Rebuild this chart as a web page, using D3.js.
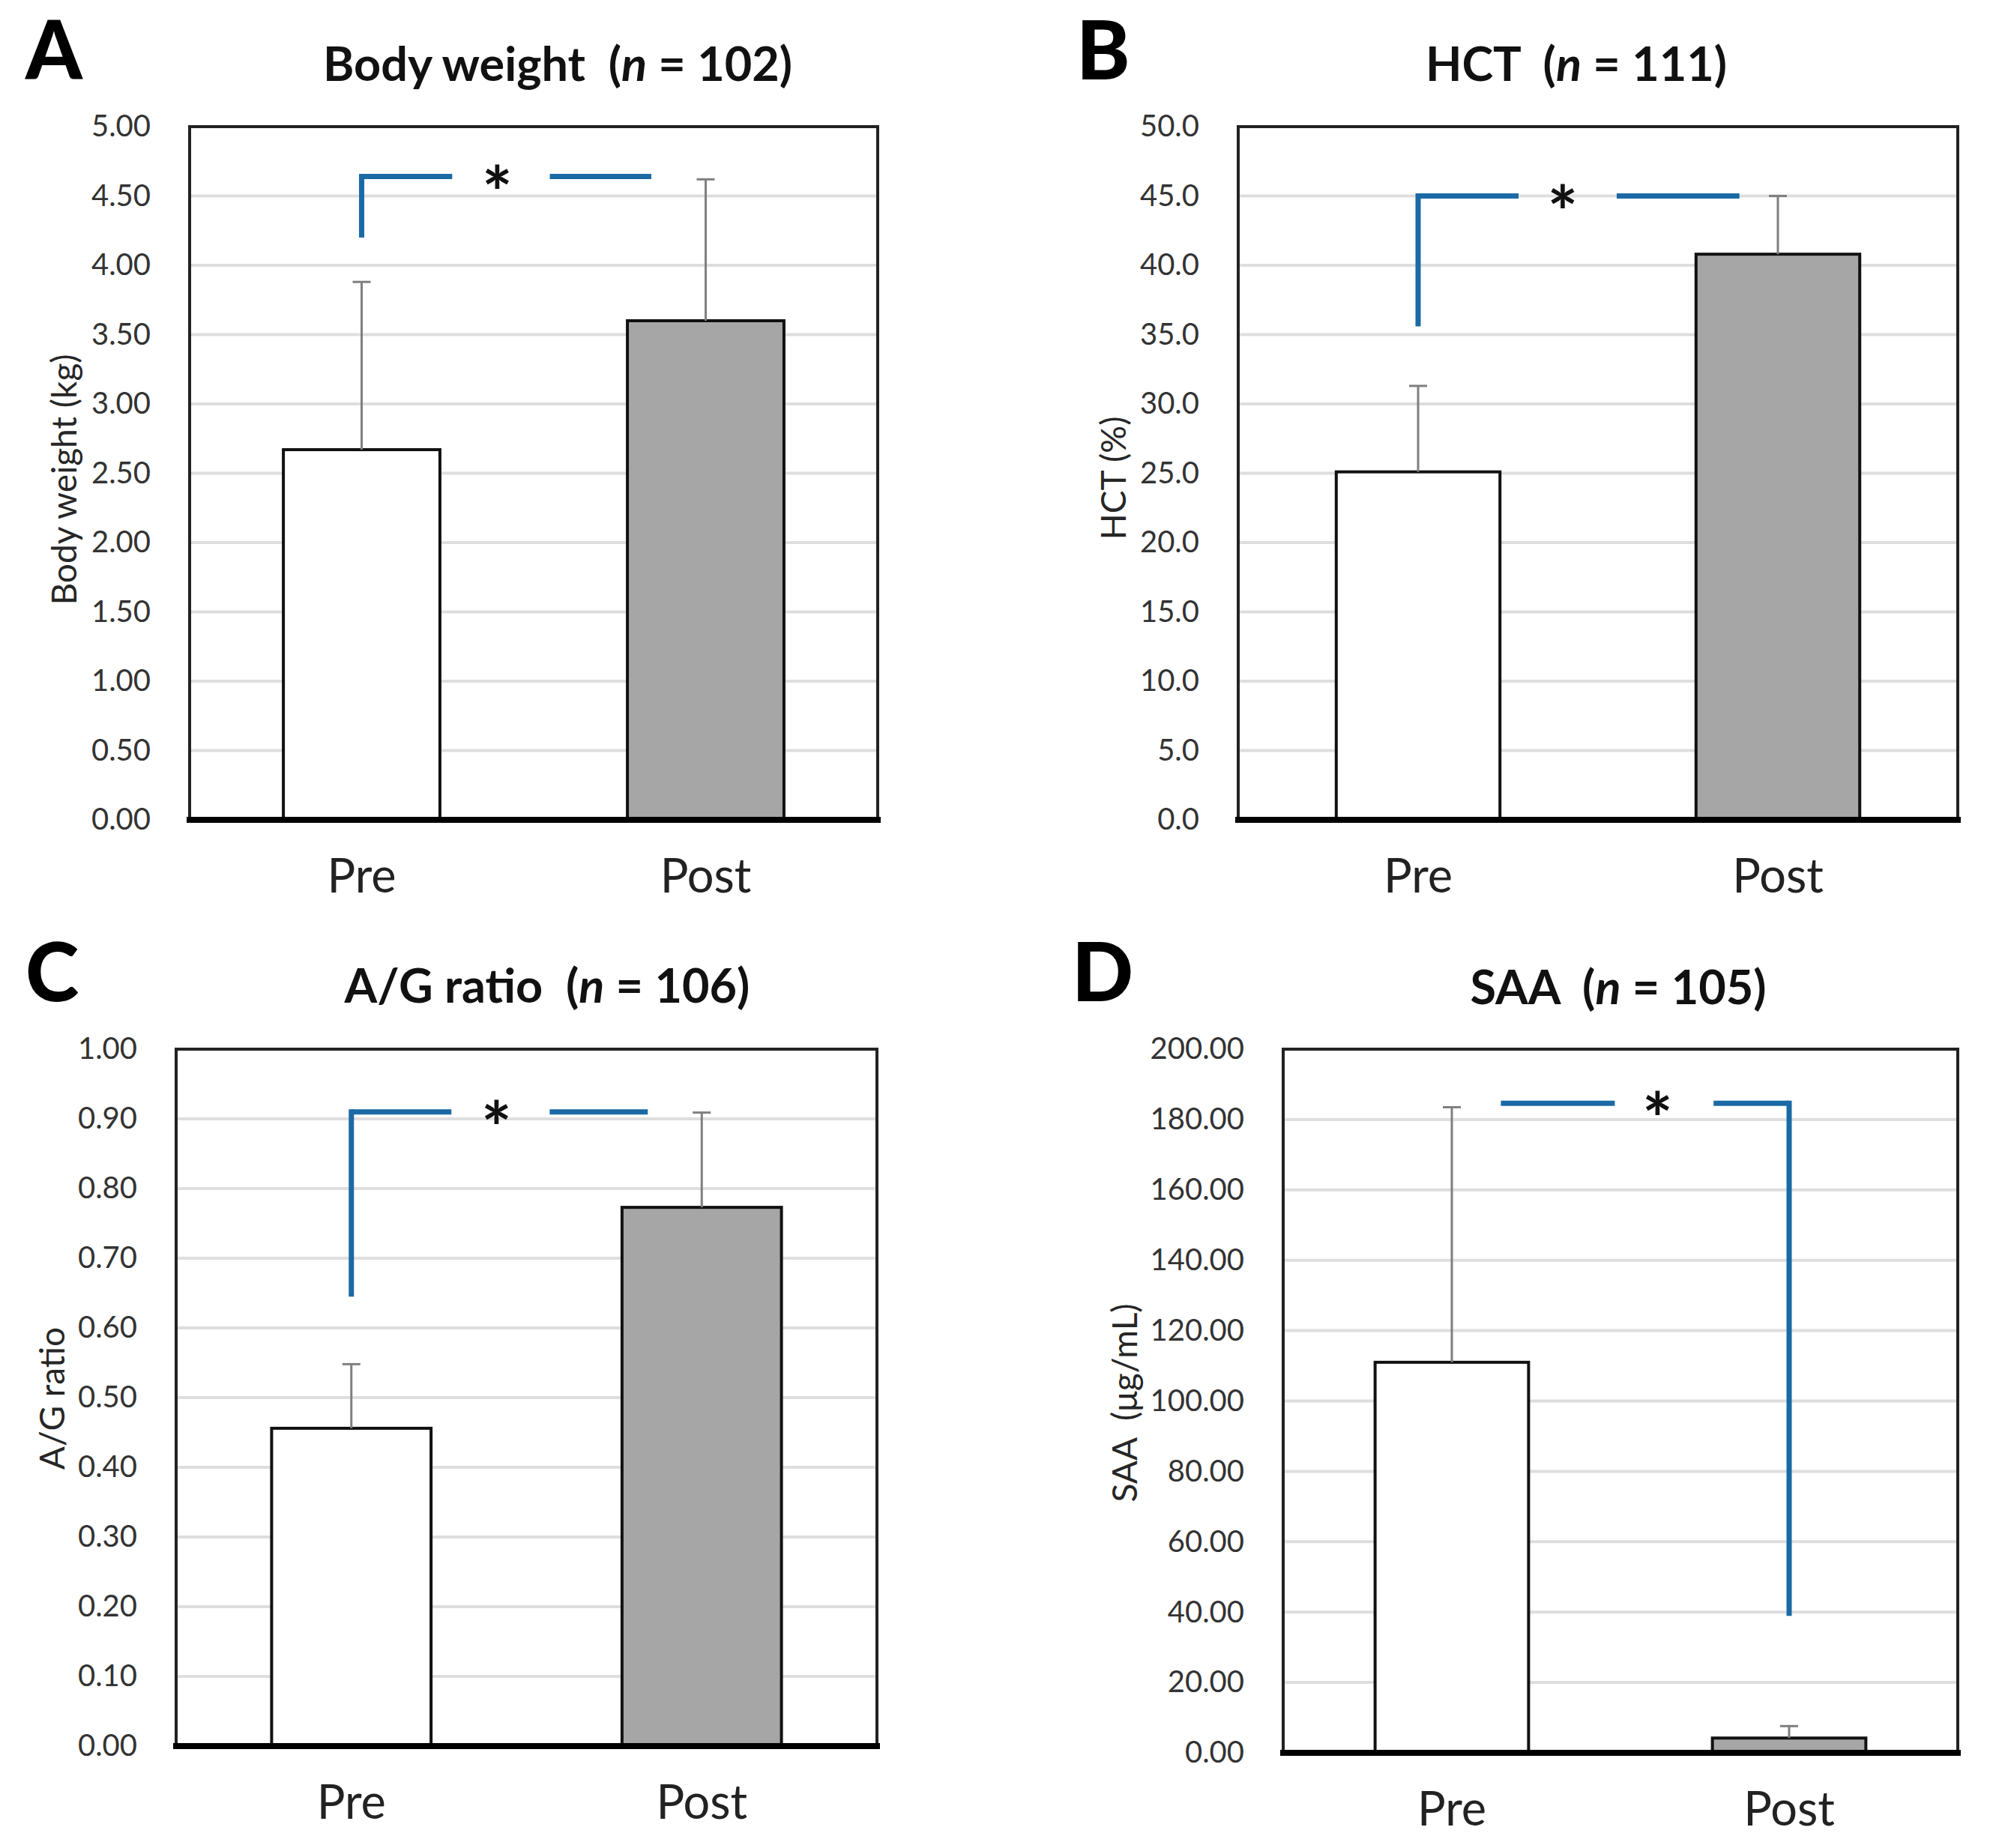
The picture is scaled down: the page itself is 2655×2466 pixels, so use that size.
<!DOCTYPE html>
<html>
<head>
<meta charset="utf-8">
<script src="https://cdn.jsdelivr.net/npm/d3@7"></script>
<style>
  body { margin: 0; background: #fff; }
  text { font-family: Lato, "Open Sans", sans-serif; }
</style>
</head>
<body>
<script>
// data
const categories = ["Pre", "Post"];
const panelLetters = ["A", "B", "C", "D"];
const titleNames = ["Body weight", "HCT", "A/G ratio", "SAA"];
const nValues = [102, 111, 106, 105];
const yLabels = ["Body weight (kg)", "HCT (%)", "A/G ratio", "SAA  (\u03bcg/mL)"];
const preMeans = [2.67, 25.1, 0.456, 111.0];
const postMeans = [3.60, 40.8, 0.773, 4.2];
const preErrTops = [3.88, 31.3, 0.548, 183.5];
const postErrTops = [4.62, 45.0, 0.909, 7.6];
const yMaxes = [5, 50, 1, 200];
const ySteps = [0.5, 5, 0.1, 20];
const tickFormats = [".2f", ".1f", ".2f", ".2f"];
const bracketTops = [4.64, 45.0, 0.91, 184.6];
const bracketFeet = [4.2, 35.6, 0.645, 38.9];
const bracketLegs = ["Pre", "Pre", "Pre", "Post"];

// layout of each panel (pixels)
const layout = [
    { x0: 253, x1: 1171, y0: 169, y1: 1094, titleX: 744, titleY: 108, letterX: 34, letterY: 106, labX: 84, labY: 640,
      gaps: [0.2535, 0.3816, 0.447, 0.5235, 0.671] },
    { x0: 1652, x1: 2612, y0: 169, y1: 1094, titleX: 2103, titleY: 108, letterX: 1436, letterY: 106, labX: 1484, labY: 638,
      gaps: [0.2533, 0.3896, 0.451, 0.526, 0.6966] },
    { x0: 235, x1: 1170, y0: 1400, y1: 2330, titleX: 730, titleY: 1338, letterX: 34, letterY: 1336, labX: 68, labY: 1866,
      gaps: [0.2525, 0.3928, 0.457, 0.533, 0.673] },
    { x0: 1712, x1: 2612, y0: 1400, y1: 2339, titleX: 2159, titleY: 1340, letterX: 1430, letterY: 1336, labX: 1499, labY: 1872,
      gaps: [0.3227, 0.4916, 0.555, 0.638, 0.7477] },
];

const blue = "#1b6aa5";

const svg = d3
    .select("body")
    .append("svg")
    .attr("width", 2655)
    .attr("height", 2466);

layout.forEach(function (L, i) {
    const w = L.x1 - L.x0;
    const g = svg.append("g");

    const x = d3.scaleBand().domain(categories).range([L.x0, L.x1]).paddingInner(0.545).paddingOuter(0.2725);
    const fx = d3.scaleLinear().domain([0, 1]).range([L.x0, L.x1]);
    const y = d3.scaleLinear().domain([0, yMaxes[i]]).range([L.y1, L.y0]);
    const ticks = d3.range(0, yMaxes[i] + ySteps[i] / 2, ySteps[i]);

    // gridlines
    g.selectAll(".grid")
        .data(ticks.filter((t, k) => k > 0 && k < ticks.length - 1))
        .enter()
        .append("line")
        .attr("x1", L.x0)
        .attr("x2", L.x1)
        .attr("y1", (d) => y(d))
        .attr("y2", (d) => y(d))
        .style("stroke", "#dedede")
        .style("stroke-width", 4);

    // bars
    const means = [preMeans[i], postMeans[i]];
    const tops = [preErrTops[i], postErrTops[i]];
    g.selectAll(".bar")
        .data(categories)
        .enter()
        .append("rect")
        .attr("x", (d) => x(d))
        .attr("y", (d, k) => y(means[k]))
        .attr("width", x.bandwidth())
        .attr("height", (d, k) => L.y1 - y(means[k]))
        .style("fill", (d, k) => (k === 0 ? "#ffffff" : "#a6a6a6"))
        .style("stroke", "#111")
        .style("stroke-width", 4);

    // error bars
    categories.forEach(function (c, k) {
        const cx = x(c) + x.bandwidth() / 2;
        g.append("line")
            .attr("x1", cx).attr("x2", cx)
            .attr("y1", y(means[k])).attr("y2", y(tops[k]))
            .style("stroke", "#7f7f7f").style("stroke-width", 3);
        g.append("line")
            .attr("x1", cx - 12).attr("x2", cx + 12)
            .attr("y1", y(tops[k])).attr("y2", y(tops[k]))
            .style("stroke", "#7f7f7f").style("stroke-width", 3);
    });

    // frame and base line
    g.append("rect")
        .attr("x", L.x0).attr("y", L.y0)
        .attr("width", w).attr("height", L.y1 - L.y0)
        .style("fill", "none").style("stroke", "#222").style("stroke-width", 4);
    g.append("line")
        .attr("x1", L.x0 - 4).attr("x2", L.x1 + 4)
        .attr("y1", L.y1).attr("y2", L.y1)
        .style("stroke", "#000").style("stroke-width", 8);

    // y axis labels
    const yAxis = g.append("g")
        .attr("transform", "translate(" + L.x0 + ",0)")
        .call(d3.axisLeft(y).tickValues(ticks).tickSize(0).tickPadding(52).tickFormat(d3.format(tickFormats[i])));
    yAxis.select(".domain").remove();
    yAxis.selectAll("text")
        .style("font-family", "Lato, sans-serif")
        .style("font-size", "40px")
        .style("fill", "#333");

    // x axis labels
    const xAxis = g.append("g")
        .attr("transform", "translate(0," + L.y1 + ")")
        .call(d3.axisBottom(x).tickSize(0).tickPadding(52));
    xAxis.select(".domain").remove();
    xAxis.selectAll("text")
        .style("font-family", "Lato, sans-serif")
        .style("font-size", "63px")
        .style("fill", "#222");

    // significance bracket
    const legX = x(bracketLegs[i]) + x.bandwidth() / 2;
    const ty = y(bracketTops[i]);
    const gp = L.gaps;
    const leftStart = bracketLegs[i] === "Pre" ? legX : fx(gp[0]);
    const rightEnd = bracketLegs[i] === "Post" ? legX : fx(gp[4]);
    g.append("line")
        .attr("x1", leftStart).attr("x2", fx(gp[1]))
        .attr("y1", ty).attr("y2", ty)
        .style("stroke", blue).style("stroke-width", 7);
    g.append("line")
        .attr("x1", fx(gp[3])).attr("x2", rightEnd)
        .attr("y1", ty).attr("y2", ty)
        .style("stroke", blue).style("stroke-width", 7);
    g.append("line")
        .attr("x1", legX).attr("x2", legX)
        .attr("y1", ty - 3.5).attr("y2", y(bracketFeet[i]))
        .style("stroke", blue).style("stroke-width", 7);
    g.append("text")
        .attr("x", fx(gp[2]))
        .attr("y", ty + 56)
        .attr("text-anchor", "middle")
        .text("*")
        .style("font-weight", "bold")
        .style("font-size", "96px")
        .style("fill", "#111");

    // y axis title
    g.append("text")
        .attr("transform", "translate(" + L.labX + "," + L.labY + ") rotate(-90)")
        .attr("text-anchor", "middle")
        .attr("dominant-baseline", "central")
        .style("white-space", "pre")
        .text(yLabels[i])
        .style("font-size", "46px")
        .style("fill", "#262626");

    // chart title
    const title = g.append("text")
        .attr("x", L.titleX)
        .attr("y", L.titleY)
        .attr("text-anchor", "middle")
        .style("white-space", "pre")
        .style("font-weight", "bold")
        .style("font-size", "63px")
        .style("fill", "#111");
    title.append("tspan").text(titleNames[i] + "  (");
    title.append("tspan").style("font-style", "italic").text("n");
    title.append("tspan").text(" = " + nValues[i] + ")");

    // panel letter
    g.append("text")
        .attr("x", L.letterX)
        .attr("y", L.letterY)
        .text(panelLetters[i])
        .style("font-weight", "900")
        .style("font-size", "108px")
        .style("fill", "#000");
});
</script>
</body>
</html>
